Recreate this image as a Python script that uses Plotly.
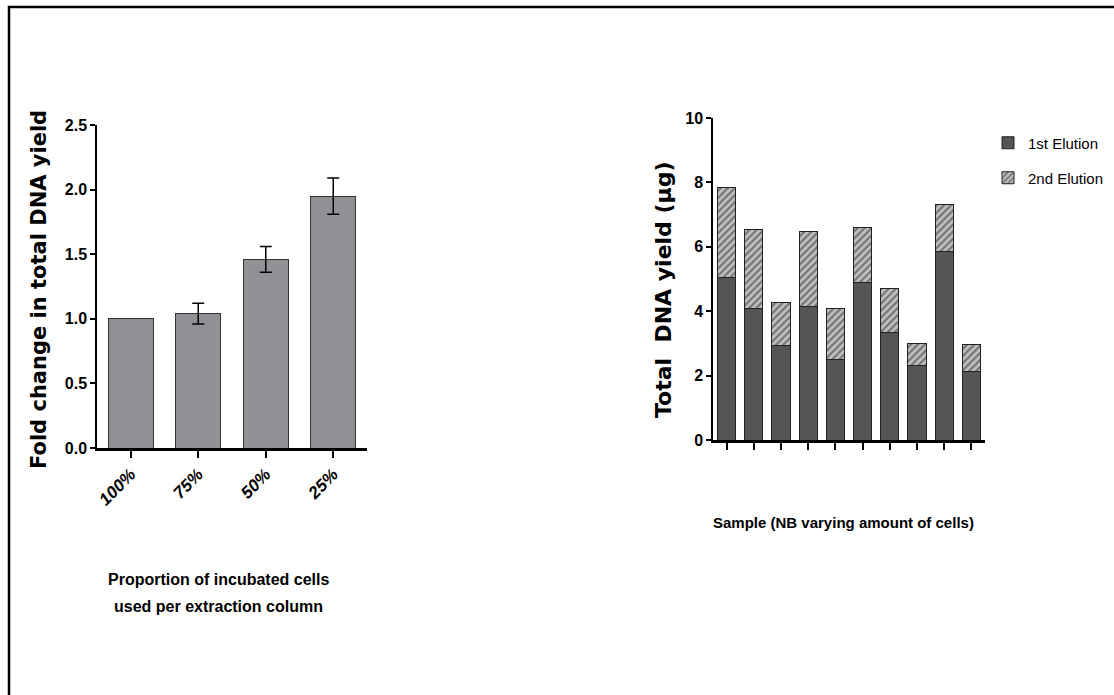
import plotly.graph_objects as go

# Left chart data
prop_labels = ["100%", "75%", "50%", "25%"]
fold_change = [1.0, 1.04, 1.46, 1.95]
fold_err = [0.0, 0.08, 0.10, 0.14]

# Right chart data
samples = [f"S{i}" for i in range(1, 11)]
elution1 = [5.05, 4.08, 2.93, 4.15, 2.51, 4.88, 3.35, 2.30, 5.84, 2.14]
elution2 = [2.80, 2.47, 1.35, 2.31, 1.56, 1.72, 1.37, 0.69, 1.48, 0.82]

W, H = 1114, 695
def px(x):
    return x / W
def py(y):
    return 1 - y / H

NARROW = "Liberation Sans, Arial, sans-serif"
WIDE = "DejaVu Sans, Verdana, sans-serif"

fig = go.Figure()

fig.add_trace(go.Bar(
    x=prop_labels, y=fold_change,
    marker=dict(color="#909194", line=dict(color="#333333", width=1)),
    xaxis="x", yaxis="y", showlegend=False,
))
# error bars only where an error exists
err_idx = [i for i, e in enumerate(fold_err) if e > 0]
fig.add_trace(go.Scatter(
    x=[prop_labels[i] for i in err_idx], y=[fold_change[i] for i in err_idx],
    mode="markers", marker=dict(size=1, opacity=0),
    error_y=dict(type="data", array=[fold_err[i] for i in err_idx], color="black", thickness=1.5, width=6),
    xaxis="x", yaxis="y", showlegend=False, hoverinfo="skip",
))

fig.add_trace(go.Bar(
    x=samples, y=elution1, name="1st Elution",
    marker=dict(color="#555555", line=dict(color="#222222", width=1)),
    xaxis="x2", yaxis="y2", legend="legend",
))
fig.add_trace(go.Bar(
    x=samples, y=elution2, name="2nd Elution",
    marker=dict(color="#b0b0b0", line=dict(color="#222222", width=1),
                pattern=dict(shape="/", fgcolor="#2a2a2a", bgcolor="#c0c0c0", size=5, solidity=0.45)),
    xaxis="x2", yaxis="y2", legend="legend2",
))

tickfont = dict(family=NARROW, size=16, color="black", weight="bold")
legfont = dict(family=NARROW, size=15, color="black")
titlefont = dict(family=NARROW, size=16, color="black", weight="bold")

fig.update_layout(
    width=W, height=H,
    margin=dict(l=0, r=0, t=0, b=0, autoexpand=False),
    paper_bgcolor="white", plot_bgcolor="white",
    barmode="stack", bargap=0.33,
    xaxis=dict(domain=[px(97), px(367)], range=[-0.5, 3.5], showline=True, linecolor="black", linewidth=2.5,
               ticks="outside", ticklen=7, tickwidth=1.5, tickcolor="black", tickangle=-45,
               tickfont=dict(family=NARROW, size=17, color="black", weight="bold", style="italic"),
               showgrid=False, zeroline=False, anchor="y", automargin=False),
    yaxis=dict(domain=[py(448), py(125)], range=[0, 2.5], showline=True, linecolor="black", linewidth=1.5,
               ticks="outside", ticklen=5, tickwidth=1.5, tickcolor="black",
               tickvals=[0, 0.5, 1.0, 1.5, 2.0, 2.5], ticktext=["0.0", "0.5", "1.0", "1.5", "2.0", "2.5"],
               tickfont=tickfont, showgrid=False, zeroline=False, anchor="x", automargin=False),
    xaxis2=dict(domain=[px(713), px(985)], range=[-0.5, 9.5], showline=True, linecolor="black", linewidth=2.5,
                ticks="outside", ticklen=7, tickwidth=1.5, tickcolor="black", showticklabels=False,
                showgrid=False, zeroline=False, anchor="y2", automargin=False),
    yaxis2=dict(domain=[py(440), py(118)], range=[0, 10], showline=True, linecolor="black", linewidth=1.5,
                ticks="outside", ticklen=5, tickwidth=1.5, tickcolor="black",
                tickvals=[0, 2, 4, 6, 8, 10],
                tickfont=tickfont, showgrid=False, zeroline=False, anchor="x2", automargin=False),
    legend=dict(x=px(988), y=py(143), xanchor="left", yanchor="middle",
                font=legfont, bgcolor="rgba(0,0,0,0)"),
    legend2=dict(x=px(988), y=py(178), xanchor="left", yanchor="middle",
                 font=legfont, bgcolor="rgba(0,0,0,0)"),
    shapes=[
        dict(type="line", xref="paper", yref="paper", x0=px(8), y0=py(7), x1=1.0, y1=py(7),
             line=dict(color="black", width=2.5)),
        dict(type="line", xref="paper", yref="paper", x0=px(9), y0=py(6), x1=px(9), y1=0.0,
             line=dict(color="black", width=2.5)),
    ],
    annotations=[
        dict(text="Proportion of incubated cells", xref="paper", yref="paper",
             x=px(218), y=py(579), xanchor="center", yanchor="middle", showarrow=False, font=titlefont),
        dict(text="used per extraction column", xref="paper", yref="paper",
             x=px(218), y=py(606), xanchor="center", yanchor="middle", showarrow=False, font=titlefont),
        dict(text="Fold change in total DNA yield", xref="paper", yref="paper",
             x=px(39), y=py(290), xanchor="center", yanchor="middle", showarrow=False, textangle=-90,
             font=dict(family=WIDE, size=21, color="black", weight="bold")),
        dict(text="Total  DNA yield (\u03bcg)", xref="paper", yref="paper",
             x=px(664), y=py(289), xanchor="center", yanchor="middle", showarrow=False, textangle=-90,
             font=dict(family=WIDE, size=22, color="black", weight="bold")),
        dict(text="Sample (NB varying amount of cells)", xref="paper", yref="paper",
             x=px(843), y=py(522), xanchor="center", yanchor="middle", showarrow=False,
             font=dict(family=NARROW, size=15, color="black", weight="bold")),
    ],
)

fig.write_html("out.html")
